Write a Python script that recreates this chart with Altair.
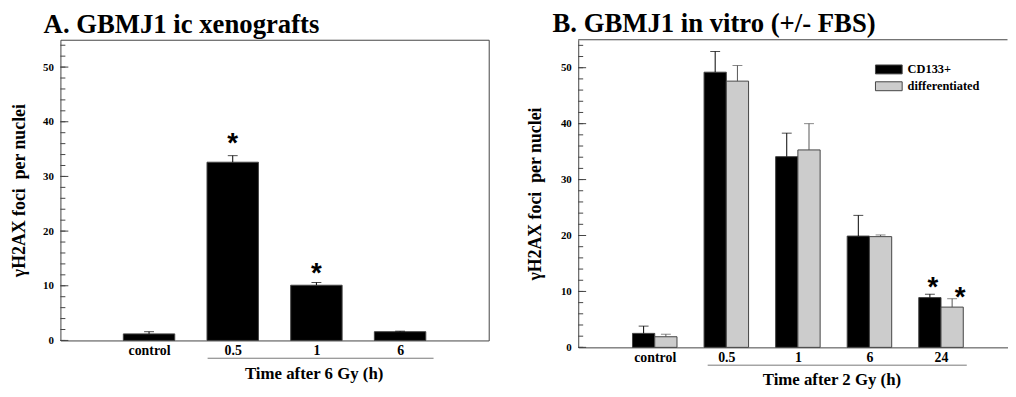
import json
import altair as alt
import pandas as pd

# ---------------- data ----------------
# Panel A: GBMJ1 ic xenografts (6 Gy)
a_categories = ["control", "0.5", "1", "6"]
a_positions = [1, 2, 3, 4]
a_means = [1.2, 32.6, 10.1, 1.6]
a_upper = [1.6, 33.8, 10.6, 1.7]
a_star_positions = [2, 3]
a_star_values = [37.3, 13.6]
a_underline = [1.70, 4.40]

# Panel B: GBMJ1 in vitro (+/- FBS), 2 Gy
b_categories = ["control", "0.5", "1", "6", "24"]
b_positions = [1, 2, 3, 4, 5]
groups = ["CD133+", "differentiated"]
group_colors = ["#000000", "#cccccc"]
b_cd133_means = [2.5, 49.2, 34.1, 19.9, 8.9]
b_cd133_upper = [3.8, 52.9, 38.3, 23.6, 9.5]
b_diff_means = [1.9, 47.6, 35.3, 19.8, 7.2]
b_diff_upper = [2.35, 50.4, 40.0, 20.1, 8.7]
b_star_positions = [5, 5]
b_star_groups = ["CD133+", "differentiated"]
b_star_values = [12.0, 10.3]
b_underline = [1.74, 5.36]

y_major = [0, 10, 20, 30, 40, 50]
y_minor = [0, 2, 4, 6, 8, 10, 12, 14, 16, 18, 20, 22, 24, 26, 28, 30, 32, 34,
           36, 38, 40, 42, 44, 46, 48, 50, 52, 54]

# ---------------- style ----------------
FONT = "'Liberation Serif', 'Times New Roman', Times, 'DejaVu Serif', serif"
AX = "#444444"
YTITLE = "γH2AX foci\u00a0 per nuclei"


def yscale():
    return alt.Scale(domain=[0, 55], nice=False, zero=True)


def y_axis(domain, title_x):
    return alt.Axis(values=y_major, format="d", ticks=False, domain=domain,
                    domainColor=AX, grid=False, labelFont=FONT,
                    labelFontWeight="bold", labelFontSize=11, labelColor="black",
                    labelPadding=7, title=YTITLE, titleFont=FONT,
                    titleFontSize=18, titleFontWeight="bold", titleColor="black",
                    titleBaseline="middle", titleX=title_x)


def x_axis(values, cats, title, title_x, domain):
    expr = json.dumps([""] + cats) + "[datum.value]"
    return alt.Axis(values=values, labelExpr=expr, ticks=False, tickSize=0,
                    domain=domain, domainColor=AX, grid=False,
                    labelFont=FONT, labelFontWeight="bold", labelFontSize=14,
                    labelColor="black", labelPadding=3, labelBaseline="top",
                    labelFlush=False, labelOverlap=False,
                    title=title, titleFont=FONT, titleFontSize=17,
                    titleFontWeight="bold", titleColor="black",
                    titleX=title_x, titleY=38, titleBaseline="alphabetic")


def tick_layers():
    major = alt.Chart(pd.DataFrame({"v": y_major})).mark_rule(color=AX).encode(
        y=alt.Y("v:Q", scale=yscale()), x=alt.value(0), x2=alt.value(8))
    minor = alt.Chart(pd.DataFrame({"v": y_minor})).mark_rule(color=AX).encode(
        y=alt.Y("v:Q", scale=yscale()), x=alt.value(0), x2=alt.value(5))
    return [major, minor]


def panel_title(text, dx):
    return alt.TitleParams(text=text, anchor="start", frame="group", dx=dx,
                           offset=1, font=FONT, fontSize=27, fontWeight="bold",
                           color="black")


# ---------------- panel A ----------------
A_W, A_H = 433, 304
a_xscale = alt.Scale(domain=[0, 5], nice=False, zero=False)
a_df = pd.DataFrame({"pos": a_positions, "cat": a_categories,
                     "mean": a_means, "upper": a_upper})

a_bars = alt.Chart(a_df).mark_bar(size=52, color="black", stroke=AX,
                                  strokeWidth=1).encode(
    x=alt.X("pos:Q", scale=a_xscale,
            axis=x_axis(a_positions, a_categories, "Time after 6 Gy (h)", 256, False)),
    y=alt.Y("mean:Q", scale=yscale(), axis=y_axis(False, -41)),
)
a_err = alt.Chart(a_df).mark_rule(color="black").encode(
    x=alt.X("pos:Q", scale=a_xscale), y=alt.Y("mean:Q", scale=yscale()),
    y2="upper:Q")
a_cap = alt.Chart(a_df).mark_tick(orient="horizontal", size=10, thickness=1,
                                  color="black").encode(
    x=alt.X("pos:Q", scale=a_xscale), y=alt.Y("upper:Q", scale=yscale()))
a_stars = alt.Chart(pd.DataFrame({"pos": a_star_positions, "v": a_star_values})).mark_text(
    text="*", font="Liberation Sans", fontSize=28, fontWeight="bold",
    baseline="alphabetic", dy=16, color="black").encode(
    x=alt.X("pos:Q", scale=a_xscale), y=alt.Y("v:Q", scale=yscale()))
a_line = alt.Chart(pd.DataFrame({"s": [a_underline[0]], "e": [a_underline[1]]})).mark_rule(
    color="#777777").encode(x=alt.X("s:Q", scale=a_xscale), x2="e:Q",
                            y=alt.value(A_H + 18))

panel_a = alt.layer(a_bars, a_err, a_cap, a_stars, a_line, *tick_layers()).properties(
    width=A_W, height=A_H,
    title=panel_title("A. GBMJ1 ic xenografts", -17),
    view=alt.ViewBackground(stroke=AX, strokeWidth=1),
)

# ---------------- panel B ----------------
B_W, B_H = 434, 311
b_xscale = alt.Scale(domain=[0, 5.86], nice=False, zero=False)
b_df = pd.DataFrame({
    "pos": b_positions * 2,
    "group": [groups[0]] * 5 + [groups[1]] * 5,
    "mean": b_cd133_means + b_diff_means,
    "upper": b_cd133_upper + b_diff_upper,
})
b_star_df = pd.DataFrame({"pos": b_star_positions, "group": b_star_groups,
                          "v": b_star_values})

color_enc = alt.Color("group:N", scale=alt.Scale(domain=groups, range=group_colors),
                      legend=alt.Legend(orient="none", legendX=307.5, legendY=23.5,
                                        title=None, padding=0,
                                        symbolType="M-2.25,-0.75H2.25V0.75H-2.25Z",
                                        symbolSize=144, symbolStrokeColor=AX,
                                        symbolStrokeWidth=1, symbolOpacity=1,
                                        labelFont=FONT, labelFontWeight="bold",
                                        labelFontSize=12.5, labelColor="black",
                                        labelOffset=12.5, rowPadding=4))

b_layers = []
offsets = {groups[0]: -11.25, groups[1]: 11.25}
star_dx = {groups[0]: 3, groups[1]: 8}
err_colors = {groups[0]: "#000000", groups[1]: "#555555"}
for g in groups:
    base = alt.Chart(b_df).transform_filter(alt.datum.group == g)
    off = offsets[g]
    bars = base.mark_bar(size=22.5, xOffset=off, stroke=AX, strokeWidth=1,
                         opacity=1).encode(
        x=alt.X("pos:Q", scale=b_xscale,
                axis=x_axis(b_positions, b_categories, "Time after 2 Gy (h)", 256, True)),
        y=alt.Y("mean:Q", scale=yscale(), axis=y_axis(True, -43.5)),
        color=color_enc,
    )
    err = base.mark_rule(color=err_colors[g], xOffset=off).encode(
        x=alt.X("pos:Q", scale=b_xscale), y=alt.Y("mean:Q", scale=yscale()),
        y2="upper:Q")
    cap = base.mark_tick(orient="horizontal", size=10, thickness=1,
                         color=err_colors[g], xOffset=off).encode(
        x=alt.X("pos:Q", scale=b_xscale), y=alt.Y("upper:Q", scale=yscale()))
    stars = alt.Chart(b_star_df).transform_filter(alt.datum.group == g).mark_text(
        text="*", font="Liberation Sans", fontSize=28, fontWeight="bold",
        baseline="alphabetic", dy=16, dx=off + star_dx[g], color="black").encode(
        x=alt.X("pos:Q", scale=b_xscale), y=alt.Y("v:Q", scale=yscale()))
    b_layers += [bars, err, cap, stars]

b_line = alt.Chart(pd.DataFrame({"s": [b_underline[0]], "e": [b_underline[1]]})).mark_rule(
    color="#777777").encode(x=alt.X("s:Q", scale=b_xscale), x2="e:Q",
                            y=alt.value(B_H + 18))
b_top = alt.Chart(pd.DataFrame({"s": [0]})).mark_rule(color=AX).encode(
    x=alt.value(0), x2=alt.value(B_W), y=alt.value(0))

panel_b = alt.layer(*b_layers, b_line, b_top, *tick_layers()).properties(
    width=B_W, height=B_H,
    title=panel_title("B. GBMJ1 in vitro (+/- FBS)", -26),
    view=alt.ViewBackground(strokeOpacity=0),
)

chart = alt.hconcat(panel_a, panel_b, spacing=36.5).resolve_scale(
    color="independent").resolve_legend(color="independent").properties(
    padding={"left": 2, "top": 0, "right": 0, "bottom": 0},
    background="white",
)

chart.save("out.html", embed_options={"renderer": "svg", "actions": False})
